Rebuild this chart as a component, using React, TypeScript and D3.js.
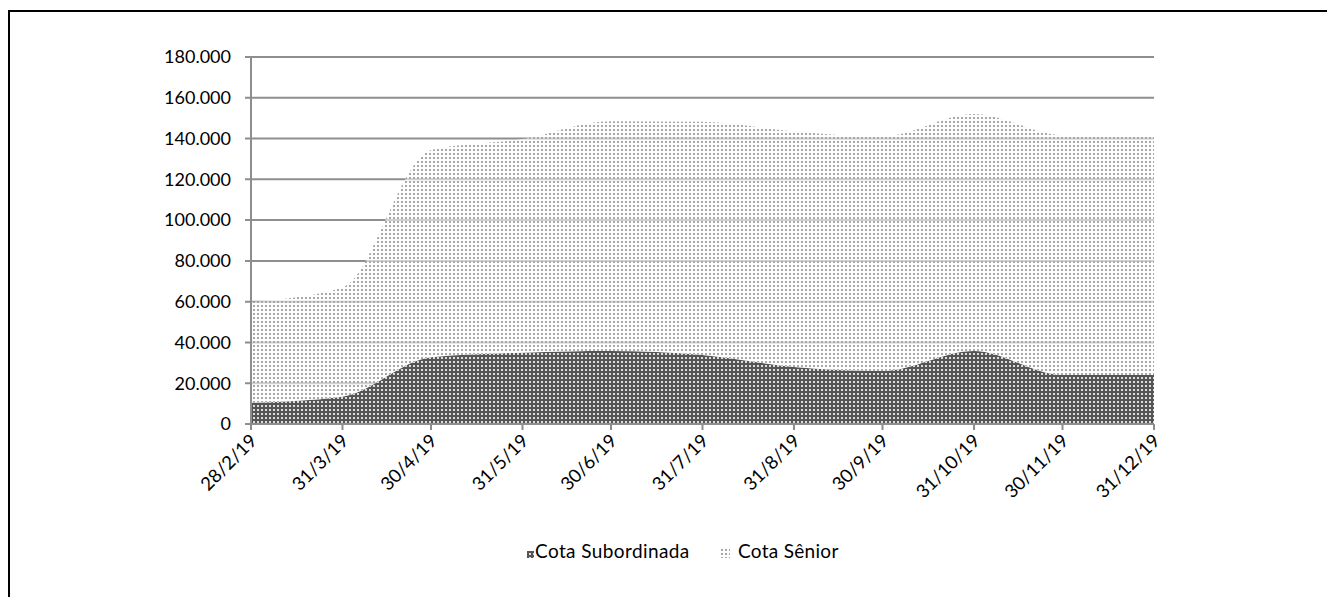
import React from "react";
import * as d3 from "d3";

const dates = ["2019-02-28", "2019-03-31", "2019-04-30", "2019-05-31", "2019-06-30", "2019-07-31", "2019-08-31", "2019-09-30", "2019-10-31", "2019-11-30", "2019-12-31"];
const subordinada = [10400, 13400, 32700, 35000, 35800, 33800, 28000, 26000, 35800, 24000, 24000];
const total = [60000, 67000, 134400, 139800, 148500, 148200, 143500, 141000, 152000, 141600, 140900];
const senior = total.map((t, i) => t - subordinada[i]);
const yTicks = [0, 20000, 40000, 60000, 80000, 100000, 120000, 140000, 160000, 180000];
const seriesNames = ["Cota Subordinada", "Cota Sênior"];

const W = 1327, H = 597;
const FONT = "Lato, 'Open Sans', sans-serif";

export default function App() {
  const parse = d3.timeParse("%Y-%m-%d");
  const ds = dates.map((d) => parse(d) as Date);
  const x = d3.scaleTime().domain([ds[0], ds[ds.length - 1]]).range([251, 1154]);
  const y = d3.scaleLinear().domain([0, 180000]).range([424, 57]);
  const loc = d3.formatLocale({ decimal: ",", thousands: ".", grouping: [3], currency: ["R$", ""] });
  const fmt = loc.format(",d");
  const rows = ds.map((d, i) => ({ date: d, sub: subordinada[i], sen: senior[i] }));
  const stack = d3.stack<any>().keys(["sub", "sen"]);
  const layers = stack(rows);
  const area = d3
    .area<any>()
    .x((d) => x(d.data.date))
    .y0((d) => y(d[0]))
    .y1((d) => y(d[1]))
    .curve(d3.curveMonotoneX);
  const fills = ["url(#patDark)", "url(#patLight)"];
  const labelFmt = (d: Date) => `${d.getDate()}/${d.getMonth() + 1}/${String(d.getFullYear()).slice(2)}`;

  return (
    <svg width={W} height={H} style={{ position: "absolute", left: 0, top: 0, display: "block" }}>
      <defs>
        <pattern id="patDark" width="4" height="4" patternUnits="userSpaceOnUse">
          <rect width="4" height="4" fill="#555555" />
          <rect x="1" y="1" width="2" height="2" fill="#dcdcdc" />
        </pattern>
        <pattern id="patLight" width="4" height="4" patternUnits="userSpaceOnUse">
          <rect width="4" height="4" fill="#fbfbfb" fillOpacity="0.6" />
          <rect x="1" y="1" width="2" height="2" fill="#a8a8a8" />
        </pattern>
      </defs>
      <rect x={9} y={11} width={W + 10} height={H + 10} fill="white" stroke="black" strokeWidth={2} />
      {yTicks.map((t) => (
        <g key={t}>
          <line x1={245} x2={1154} y1={y(t)} y2={y(t)} stroke="#8e8e8e" strokeWidth={2} />
          <text x={231} y={y(t)} dy="0.35em" textAnchor="end" fontFamily={FONT} fontSize={18} fill="#000">
            {fmt(t)}
          </text>
        </g>
      ))}
      {layers.map((l, i) => (
        <path key={i} d={area(l as any) || ""} fill={fills[i]} />
      ))}
      <line x1={251} x2={251} y1={57} y2={424} stroke="#8e8e8e" strokeWidth={2} />
      <line x1={245} x2={1154} y1={424} y2={424} stroke="#8e8e8e" strokeWidth={2} />
      {ds.map((d, i) => (
        <g key={i}>
          <line x1={x(d)} x2={x(d)} y1={424} y2={430} stroke="#8e8e8e" strokeWidth={2} />
          <text
            transform={`translate(${x(d) + 7},${442}) rotate(-45)`}
            textAnchor="end"
            fontFamily={FONT}
            fontSize={18.5}
            fill="#000"
          >
            {labelFmt(d)}
          </text>
        </g>
      ))}
      <rect x={527} y={551} width={7} height={7} fill={fills[0]} />
      <text x={535} y={558} fontFamily={FONT} fontSize={19} letterSpacing={0.4} fill="#000">{seriesNames[0]}</text>
      <rect x={721} y={549} width={9} height={9} fill={fills[1]} />
      <text x={738} y={558} fontFamily={FONT} fontSize={19} letterSpacing={0.3} fill="#000">{seriesNames[1]}</text>
    </svg>
  );
}
